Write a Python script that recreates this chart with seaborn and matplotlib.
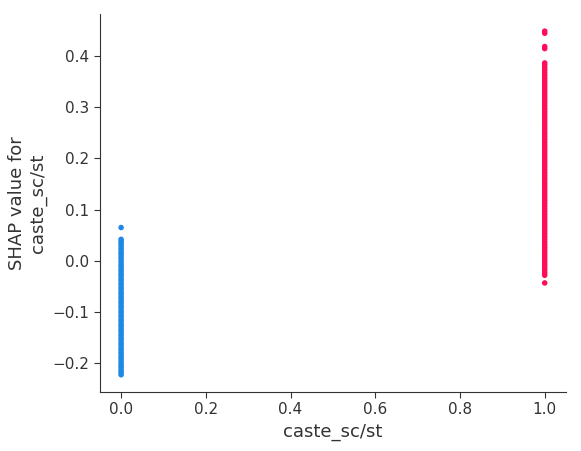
import matplotlib
matplotlib.use("Agg")
import matplotlib.pyplot as plt
import seaborn as sns
import pandas as pd

feature_name = "caste_sc/st"
y_label = "SHAP value for\ncaste_sc/st"

# SHAP values for rows where caste_sc/st == 0
shap_at_0 = [-0.222, -0.218, -0.214, -0.209, -0.205, -0.201, -0.196, -0.191, -0.187,
             -0.182, -0.178, -0.173, -0.169, -0.164, -0.160, -0.155, -0.151, -0.146,
             -0.142, -0.137, -0.133, -0.128, -0.124, -0.119, -0.115, -0.110, -0.106,
             -0.101, -0.097, -0.092, -0.088, -0.083, -0.079, -0.074, -0.070, -0.065,
             -0.061, -0.056, -0.052, -0.047, -0.043, -0.038, -0.034, -0.029, -0.025,
             -0.020, -0.016, -0.011, -0.007, -0.002, 0.003, 0.007, 0.012, 0.016,
             0.021, 0.025, 0.030, 0.034, 0.038, 0.042, 0.065]

# SHAP values for rows where caste_sc/st == 1
shap_at_1 = [-0.043, -0.028, -0.023, -0.018, -0.013, -0.008, -0.003, 0.002, 0.007,
             0.012, 0.017, 0.022, 0.027, 0.032, 0.037, 0.042, 0.047, 0.052, 0.057,
             0.062, 0.067, 0.072, 0.077, 0.082, 0.087, 0.092, 0.097, 0.102, 0.107,
             0.112, 0.117, 0.122, 0.127, 0.132, 0.137, 0.142, 0.147, 0.152, 0.157,
             0.162, 0.167, 0.172, 0.177, 0.182, 0.187, 0.192, 0.197, 0.202, 0.207,
             0.212, 0.217, 0.222, 0.227, 0.232, 0.237, 0.242, 0.247, 0.252, 0.257,
             0.262, 0.267, 0.272, 0.277, 0.282, 0.287, 0.292, 0.297, 0.302, 0.307,
             0.312, 0.317, 0.322, 0.327, 0.332, 0.337, 0.342, 0.347, 0.352, 0.357,
             0.362, 0.367, 0.372, 0.377, 0.382, 0.386, 0.414, 0.418, 0.444, 0.448]

colors = {0.0: "#1E88E5", 1.0: "#FF0D57"}

df = pd.DataFrame({
    "x": [0.0] * len(shap_at_0) + [1.0] * len(shap_at_1),
    "shap": shap_at_0 + shap_at_1,
})

sns.set_style("ticks")
plt.rcParams["font.family"] = ["DejaVu Sans"]

fig = plt.figure(figsize=(5.81, 4.51), dpi=100)
ax = fig.add_axes([0.172, 0.131, 0.802, 0.838])

sns.scatterplot(data=df, x="x", y="shap", hue="x", palette=colors, s=16,
                linewidth=0, alpha=1, legend=False, ax=ax)

ax.set_xlabel(feature_name, fontsize=13, color="#333333")
ax.set_ylabel(y_label, fontsize=13, color="#333333")
ax.set_xticks([0.0, 0.2, 0.4, 0.6, 0.8, 1.0])
ax.set_yticks([-0.2, -0.1, 0.0, 0.1, 0.2, 0.3, 0.4])
ax.tick_params(labelsize=11, labelcolor="#333333", color="#333333", length=4, width=0.8)
for side in ["top", "right"]:
    ax.spines[side].set_visible(False)
for side in ["left", "bottom"]:
    ax.spines[side].set_color("#333333")
    ax.spines[side].set_linewidth(0.8)

fig.savefig("out.png", dpi=100)
